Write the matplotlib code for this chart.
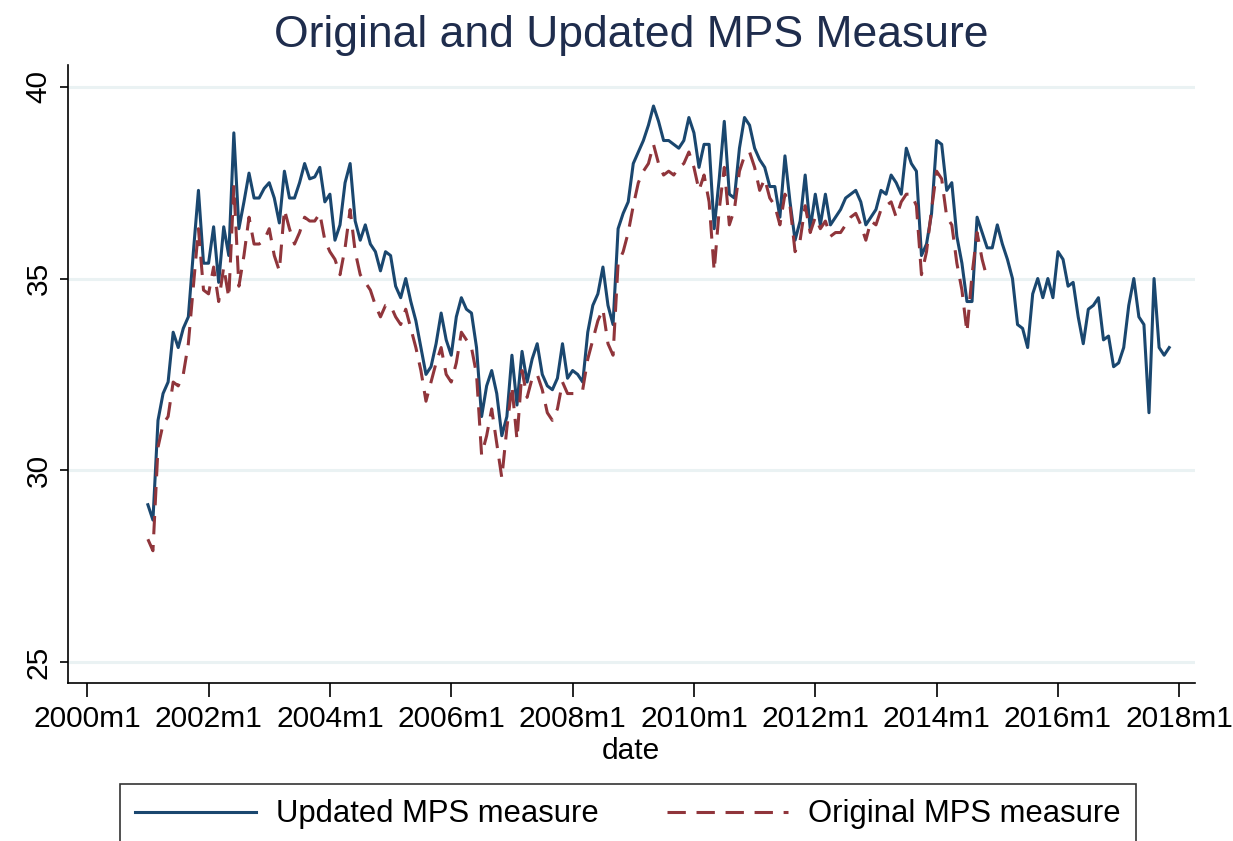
import numpy as np
import matplotlib
matplotlib.use("Agg")
import matplotlib.pyplot as plt

plt.rcParams['font.family'] = ['Liberation Sans', 'DejaVu Sans']

# months counted from 2000m1 (= 0)
start_month = 12  # 2001m1

updated = [
    29.1, 28.7, 31.3, 32.0, 32.3, 33.6, 33.2, 33.7, 34.0, 35.7, 37.3, 35.4,
    35.4, 36.35, 34.9, 36.35, 35.6, 38.8, 36.3, 37.0, 37.75, 37.1, 37.1, 37.35,
    37.5, 37.1, 36.45, 37.8, 37.1, 37.1, 37.5, 38.0, 37.6, 37.65, 37.9, 37.0,
    37.2, 36.0, 36.4, 37.5, 38.0, 36.5, 36.0, 36.4, 35.9, 35.7, 35.2, 35.7,
    35.6, 34.8, 34.5, 35.0, 34.4, 33.9, 33.2, 32.5, 32.7, 33.3, 34.1, 33.4,
    33.0, 34.0, 34.5, 34.2, 34.1, 33.2, 31.4, 32.2, 32.6, 32.0, 30.9, 31.4,
    33.0, 31.7, 33.1, 32.3, 32.9, 33.3, 32.5, 32.2, 32.1, 32.4, 33.3, 32.4,
    32.6, 32.5, 32.3, 33.6, 34.3, 34.6, 35.3, 34.3, 33.8, 36.3, 36.7, 37.0,
    38.0, 38.3, 38.6, 39.0, 39.5, 39.1, 38.6, 38.6, 38.5, 38.4, 38.6, 39.2,
    38.8, 37.9, 38.5, 38.5, 36.3, 37.6, 39.1, 37.2, 37.1, 38.4, 39.2, 39.0,
    38.4, 38.1, 37.9, 37.4, 37.4, 36.6, 38.2, 37.0, 36.0, 36.5, 37.7, 36.3,
    37.2, 36.4, 37.2, 36.4, 36.6, 36.8, 37.1, 37.2, 37.3, 37.0, 36.4, 36.6,
    36.8, 37.3, 37.2, 37.7, 37.5, 37.2, 38.4, 38.0, 37.8, 35.6, 35.9, 36.7,
    38.6, 38.5, 37.3, 37.5, 36.1, 35.4, 34.4, 34.4, 36.6, 36.2, 35.8, 35.8,
    36.4, 35.9, 35.5, 35.0, 33.8, 33.7, 33.2, 34.6, 35.0, 34.5, 35.0, 34.5,
    35.7, 35.5, 34.8, 34.9, 34.0, 33.3, 34.2, 34.3, 34.5, 33.4, 33.5, 32.7,
    32.8, 33.2, 34.3, 35.0, 34.0, 33.8, 31.5, 35.0, 33.2, 33.0, 33.2,
]

original = [
    28.2, 27.9, 30.6, 31.2, 31.4, 32.3, 32.2, 32.5, 33.3, 34.8, 36.3, 34.7,
    34.6, 35.3, 34.4, 35.3, 34.5, 37.4, 34.8, 35.6, 36.6, 35.9, 35.9, 36.0,
    36.3, 35.6, 35.2, 36.8, 36.3, 35.9, 36.2, 36.6, 36.5, 36.5, 36.7, 36.0,
    35.7, 35.5, 35.1, 35.8, 36.8, 35.7, 35.1, 34.9, 34.7, 34.3, 34.0, 34.3,
    34.3, 34.0, 33.8, 34.2, 33.7, 33.2, 32.6, 31.8, 32.3, 32.8, 33.2, 32.5,
    32.3, 32.8, 33.6, 33.4, 33.2, 32.5, 30.4, 30.9, 31.6, 30.7, 29.8, 31.1,
    32.2, 30.8, 32.6, 31.9, 32.4, 32.5, 32.1, 31.5, 31.3, 31.6, 32.3, 32.0,
    32.0, 32.0, 32.1, 32.9, 33.4, 33.9, 34.2, 33.3, 33.0, 35.4, 35.7, 36.2,
    36.9, 37.5, 37.8, 38.0, 38.5, 38.0, 37.7, 37.8, 37.7, 37.9, 38.0, 38.3,
    37.9, 37.3, 37.7, 37.0, 35.2, 36.8, 37.9, 36.4, 36.8, 37.8, 38.2, 38.3,
    37.9, 37.3, 37.6, 37.1, 36.9, 36.4, 37.2, 36.9, 35.7, 36.0, 36.9, 36.2,
    36.6, 36.3, 36.5, 36.1, 36.2, 36.2, 36.4, 36.6, 36.7, 36.4, 36.0, 36.5,
    36.4, 36.8, 36.9, 37.0, 36.6, 37.0, 37.2, 37.2, 36.9, 35.1, 35.7, 36.8,
    37.8, 37.6, 36.6, 36.4, 35.4, 34.7, 33.6, 35.1, 36.2, 35.5, 35.0,
]

tick_months = list(range(0, 217, 24))
tick_labels = [f"{2000 + m // 12}m1" for m in tick_months]
y_ticks = [25, 30, 35, 40]

navy = '#1A476F'
maroon = '#90353B'

x_upd = np.arange(start_month, start_month + len(updated))
x_org = np.arange(start_month, start_month + len(original))

fig = plt.figure(figsize=(12.33, 8.41), dpi=100)
ax = fig.add_axes([68/1233, 1 - 683/841, (1195 - 68)/1233, (683 - 65)/841])

for y in y_ticks:
    ax.axhline(y, color='#EAF2F3', lw=2.2, zorder=0)

l1, = ax.plot(x_upd, updated, color=navy, lw=2.2, label='Updated MPS measure')
l2, = ax.plot(x_org, original, color=maroon, lw=2.2, linestyle=(0, (6, 3.5)),
              label='Original MPS measure')

ax.set_xlim(-3.8, 219.1)
ax.set_ylim(24.45, 40.57)
ax.set_xticks(tick_months)
ax.set_xticklabels(tick_labels)
ax.set_yticks(y_ticks)
ax.set_yticklabels([str(v) for v in y_ticks], rotation=90, va='center')

ax.tick_params(axis='x', length=10, width=1.2, labelsize=21.5, pad=6, colors='black')
ax.tick_params(axis='y', length=6, width=1.2, labelsize=21.5, pad=5, colors='black')

for s in ['top', 'right']:
    ax.spines[s].set_visible(False)
for s in ['left', 'bottom']:
    ax.spines[s].set_linewidth(1.2)

fig.text(631/1233, 1 - 35/841, 'Original and Updated MPS Measure',
         ha='center', va='center', fontsize=32, color='#1F2D4D')
fig.text(631/1233, 1 - 751/841, 'date', ha='center', va='center', fontsize=21.5)

leg = fig.legend(handles=[l1, l2], loc='upper center', ncol=2,
                 bbox_to_anchor=(628/1233, 1 - 784/841), borderaxespad=0,
                 fontsize=22.3, frameon=True, fancybox=False, edgecolor='black',
                 handlelength=3.9, handletextpad=0.65, columnspacing=2.2,
                 borderpad=0.5)
leg.get_frame().set_linewidth(1.2)

fig.savefig('out.png', dpi=100, facecolor='white')
